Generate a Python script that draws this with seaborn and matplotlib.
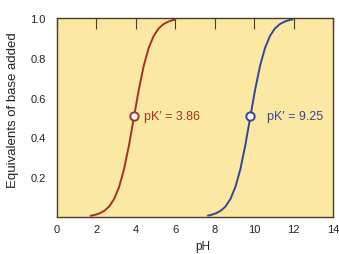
import numpy as np
import pandas as pd
import matplotlib
matplotlib.use("Agg")
import matplotlib.pyplot as plt
import seaborn as sns

# titration curves (pH, equivalents of base added)
ph_acid = [1.70, 1.90, 2.15, 2.40, 2.65, 2.90, 3.15, 3.40, 3.65, 3.90,
           4.15, 4.40, 4.65, 4.90, 5.15, 5.40, 5.65, 5.90, 6.00]
eq_acid = [0.006, 0.010, 0.018, 0.031, 0.053, 0.091, 0.151, 0.240, 0.360, 0.500,
           0.640, 0.760, 0.849, 0.909, 0.947, 0.969, 0.982, 0.990, 0.992]
ph_amine = [7.65, 7.80, 8.05, 8.30, 8.55, 8.80, 9.05, 9.30, 9.55, 9.80,
            10.05, 10.30, 10.55, 10.80, 11.05, 11.30, 11.55, 11.80, 11.95]
eq_amine = [0.007, 0.010, 0.018, 0.031, 0.053, 0.091, 0.151, 0.240, 0.360, 0.500,
            0.640, 0.760, 0.849, 0.909, 0.947, 0.969, 0.982, 0.990, 0.993]
# midpoints as drawn, and their labels
mid_ph = [3.90, 9.80]
mid_eq = [0.51, 0.51]
pk_labels = ["pK\u2032 = 3.86", "pK\u2032 = 9.25"]
x_ticks = [0, 2, 4, 6, 8, 10, 12, 14]
y_ticks = [0.2, 0.4, 0.6, 0.8, 1.0]
y_tick_labels = ["0.2", "0.4", "0.6", "0.8", "1.0"]

label_x = [4.40, 10.65]  # where the pK' texts start
red = "#a3332a"
blue = "#33479a"
edge = "#4a3e28"
ink = "#222222"

sns.set_style("white")
plt.rcParams["font.family"] = ["Liberation Sans", "DejaVu Sans"]

fig = plt.figure(figsize=(3.39, 2.55), dpi=100)
ax = fig.add_axes([57 / 339, 37 / 255, 276 / 339, 199 / 255])
ax.set_facecolor("#fbe8a2")

df_acid = pd.DataFrame({"pH": ph_acid, "eq": eq_acid})
df_amine = pd.DataFrame({"pH": ph_amine, "eq": eq_amine})
sns.lineplot(data=df_acid, x="pH", y="eq", color=red, lw=1.4, ax=ax)
sns.lineplot(data=df_amine, x="pH", y="eq", color=blue, lw=1.4, ax=ax)

for px, py, lab, tx, c in zip(mid_ph, mid_eq, pk_labels, label_x, [red, blue]):
    ax.plot(px, py, "o", ms=6, mfc="white", mec=c, mew=1.4, zorder=5)
    ax.text(tx, py, lab, color=c, fontsize=9, va="center")

ax.set_xlim(0, 14)
ax.set_ylim(0, 1.0)
ax.set_xticks(x_ticks)
ax.set_yticks(y_ticks)
ax.set_yticklabels(y_tick_labels)
ax.tick_params(axis="both", direction="in", length=8, width=0.8, color=edge,
               labelsize=8, labelcolor=ink, top=True)
ax.tick_params(axis="x", pad=5)
ax.tick_params(axis="y", pad=8)
for s in ax.spines.values():
    s.set_color(edge)
    s.set_linewidth(1.0)
ax.set_xlabel("pH", fontsize=8.5, color=ink)
ax.set_ylabel("Equivalents of base added", fontsize=9.5, color=ink)
ax.xaxis.set_label_coords(0.53, -0.115)
ax.yaxis.set_label_coords(-0.137, 0.543)

fig.savefig("out.png", dpi=100)
